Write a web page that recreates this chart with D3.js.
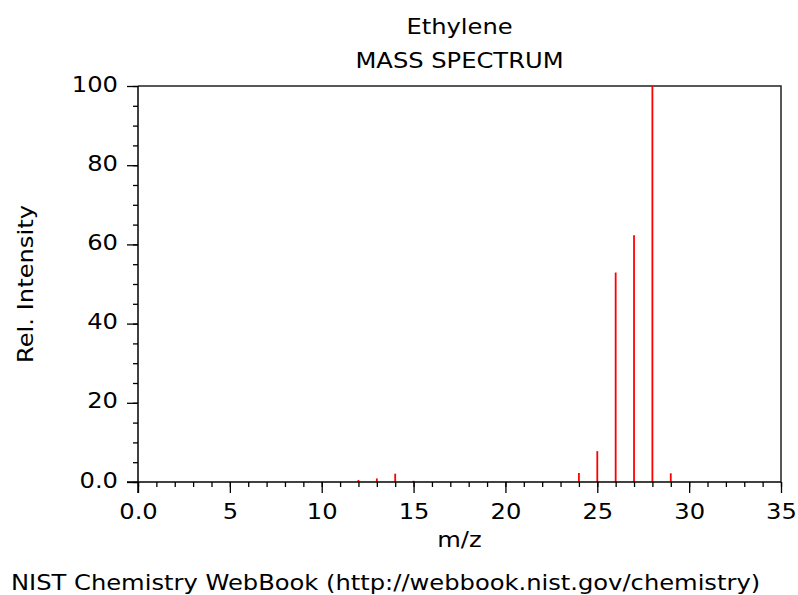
<!DOCTYPE html>
<html>
<head>
<meta charset="utf-8">
<script src="https://cdn.jsdelivr.net/npm/d3@7/dist/d3.min.js"></script>
<style>
  html, body { margin: 0; padding: 0; background: #fff; }
  svg { display: block; font-family: "DejaVu Sans", sans-serif; }
</style>
</head>
<body>
<svg id="chart" width="798" height="595"></svg>
<script>
// Ethylene electron-ionisation mass spectrum
const mz = [12, 13, 14, 15, 24, 25, 26, 27, 28, 29];
const intensity = [0.5, 0.9, 2.1, 0.3, 2.3, 7.8, 52.9, 62.3, 100, 2.2];
const xMajorTicks = [0, 5, 10, 15, 20, 25, 30, 35];
const xTickLabels = ["0.0", "5", "10", "15", "20", "25", "30", "35"];
const yMajorTicks = [0, 20, 40, 60, 80, 100];
const yTickLabels = ["0.0", "20", "40", "60", "80", "100"];

const peaks = mz.map((m, i) => ({ mz: m, value: intensity[i] }));

const svg = d3.select("#chart");
const plotLeft = 138, plotRight = 781, plotTop = 86, plotBottom = 482;
const fontSize = 22, stretch = 1.1;   // text is set slightly wide

const x = d3.scaleLinear().domain([0, 35]).range([plotLeft, plotRight]);
const y = d3.scaleLinear().domain([0, 100]).range([plotBottom, plotTop]);

// place a horizontally widened text label
function wideText(parent, tx, ty, str, anchor) {
  return parent.append("text")
    .attr("transform", `translate(${tx},${ty}) scale(${stretch},1)`)
    .attr("text-anchor", anchor || "start")
    .attr("font-size", fontSize).attr("fill", "#000")
    .text(str);
}

// frame: top and right edges
svg.append("path")
  .attr("d", `M${plotLeft},${plotTop}H${plotRight}V${plotBottom}`)
  .attr("fill", "none").attr("stroke", "#222").attr("stroke-width", 1.5);

// peaks
svg.append("g").selectAll("line").data(peaks).join("line")
  .attr("x1", d => x(d.mz)).attr("x2", d => x(d.mz))
  .attr("y1", y(0)).attr("y2", d => y(d.value))
  .attr("stroke", "#ff0000").attr("stroke-width", 1.8);

// x axis: minor ticks every 1, major every 5
const xAxis = svg.append("g").attr("transform", `translate(0,${plotBottom})`);
xAxis.append("g")
  .call(d3.axisBottom(x).tickValues(d3.range(0, 36, 1)).tickSize(5).tickFormat(""))
  .call(g => g.select(".domain").remove());
xAxis.append("g")
  .call(d3.axisBottom(x).tickValues(xMajorTicks).tickSize(11)
    .tickFormat((d, i) => xTickLabels[i]))
  .call(g => g.select(".domain").remove())
  .call(g => g.selectAll(".tick text")
    .attr("y", null).attr("dy", null)
    .attr("transform", `translate(0,37) scale(${stretch},1)`));
xAxis.append("line").attr("x1", plotLeft - 11).attr("x2", plotRight).attr("y1", 0).attr("y2", 0)
  .attr("stroke", "#000").attr("stroke-width", 1.5);

// y axis: minor ticks every 5, major every 20
const yAxis = svg.append("g").attr("transform", `translate(${plotLeft},0)`);
yAxis.append("g")
  .call(d3.axisLeft(y).tickValues(d3.range(0, 101, 5)).tickSize(5).tickFormat(""))
  .call(g => g.select(".domain").remove());
yAxis.append("g")
  .call(d3.axisLeft(y).tickValues(yMajorTicks).tickSize(11)
    .tickFormat((d, i) => yTickLabels[i]))
  .call(g => g.select(".domain").remove())
  .call(g => g.selectAll(".tick text")
    .attr("x", null).attr("dy", null)
    .attr("transform", `translate(-20,5) scale(${stretch},1)`));
yAxis.append("line").attr("x1", 0).attr("x2", 0).attr("y1", plotTop).attr("y2", plotBottom + 11)
  .attr("stroke", "#000").attr("stroke-width", 1.5);

svg.selectAll(".tick line").attr("stroke", "#000").attr("stroke-width", 1.3);
svg.selectAll(".tick text")
  .attr("font-family", "DejaVu Sans").attr("font-size", fontSize).attr("fill", "#000");

// titles
const cx = (plotLeft + plotRight) / 2;
wideText(svg, cx, 34, "Ethylene", "middle");
wideText(svg, cx, 68, "MASS SPECTRUM", "middle");

// axis titles
wideText(svg, cx, 547, "m/z", "middle");
svg.append("text")
  .attr("transform", `translate(33,${(plotTop + plotBottom) / 2}) rotate(-90) scale(${stretch},1)`)
  .attr("text-anchor", "middle").attr("font-size", fontSize).text("Rel. Intensity");

// credit line
wideText(svg, 11, 590, "NIST Chemistry WebBook (http://webbook.nist.gov/chemistry)");
</script>
</body>
</html>
